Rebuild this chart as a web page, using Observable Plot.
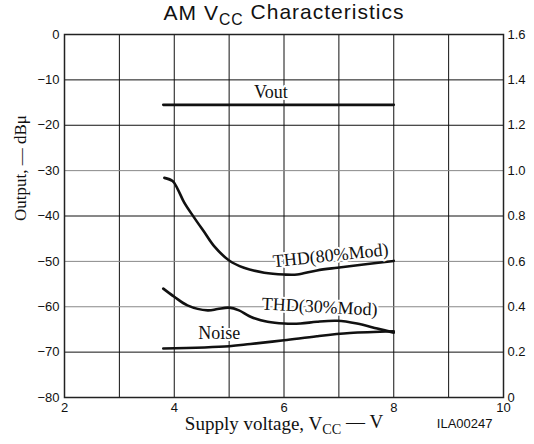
<!DOCTYPE html>
<html><head><meta charset="utf-8">
<script src="https://cdn.jsdelivr.net/npm/d3@7"></script>
<script src="https://cdn.jsdelivr.net/npm/@observablehq/plot@0.6"></script>
<style>body{margin:0;background:#fff}</style>
</head><body><div id="chart"></div>
<script>
// ---- data ----
const voutX = [3.8, 8.0];
const voutY = [-15.5, -15.5];
const thd80X = [3.82, 3.97, 4.06, 4.18, 4.36, 4.55, 4.73, 5.0, 5.27, 5.64, 6.0, 6.24, 6.6, 6.97, 7.45, 8.0];
const thd80Y = [-31.6, -32.3, -34.0, -37.0, -40.3, -43.6, -46.7, -49.8, -51.4, -52.5, -52.9, -52.9, -52.0, -51.4, -50.7, -49.9];
const thd30X = [3.8, 4.0, 4.24, 4.61, 4.79, 5.0, 5.18, 5.39, 5.7, 6.0, 6.3, 6.6, 6.97, 7.33, 7.7, 8.0];
const thd30Y = [-56.0, -57.8, -59.7, -60.8, -60.5, -60.2, -60.8, -62.2, -63.3, -63.7, -63.7, -63.3, -63.1, -63.7, -64.8, -65.7];
const noiseX = [3.8, 5.0, 5.39, 6.0, 6.6, 7.2, 8.0];
const noiseY = [-69.2, -68.7, -68.2, -67.4, -66.5, -65.8, -65.4];

const xTicks = [2, 4, 6, 8, 10];
const xGrid = [3, 4, 5, 6, 7, 8, 9];
const yTicks = [-80, -70, -60, -50, -40, -30, -20, -10, 0];
const yGridDark = [-70, -40, -20, -10];
const yGridLight = [-60, -50, -30];
const rightTickLabels = ["0", "0.2", "0.4", "0.6", "0.8", "1.0", "1.2", "1.4", "1.6"];

const curveLabels = [
  {x: 5.76, y: -12.8, text: "Vout", rotate: 0},
  {x: 6.85, y: -48.7, text: "THD(80%Mod)", rotate: -6},
  {x: 6.65, y: -60.0, text: "THD(30%Mod)", rotate: 3},
  {x: 4.82, y: -65.8, text: "Noise", rotate: 0}
];

const titleText = "AM V_CC Characteristics";
const xLabelText = "Supply voltage, V_CC — V";
const yLabelText = "Output, — dBμ";
const codeText = "ILA00247";

const toRows = (xs, ys) => xs.map((x, i) => ({x, y: ys[i]}));
const serif = "'Liberation Serif', 'Times New Roman', serif";

const chart = Plot.plot({
  width: 534, height: 444,
  marginLeft: 64, marginRight: 31, marginTop: 34, marginBottom: 47,
  style: {fontFamily: "'Liberation Sans', Arial, sans-serif", fontSize: "13px", color: "#111", background: "#fff"},
  x: {domain: [2, 10]},
  y: {domain: [-80, 0]},
  marks: [
    Plot.ruleX(xGrid, {stroke: "#111", strokeWidth: 1}),
    Plot.ruleY(yGridDark, {stroke: "#111", strokeWidth: 1}),
    Plot.ruleY(yGridLight, {stroke: "#888", strokeWidth: 1}),
    Plot.frame({stroke: "#222", strokeWidth: 1.5}),
    Plot.axisX({ticks: xTicks, tickSize: 0, tickPadding: 5, label: null}),
    Plot.axisY({ticks: yTicks, tickSize: 0, tickPadding: 5, label: null}),
    Plot.axisY({anchor: "right", ticks: yTicks, tickSize: 0, tickPadding: 4, label: null,
      tickFormat: d => rightTickLabels[Math.round((d + 80) / 10)]}),
    Plot.line(toRows(voutX, voutY), {x: "x", y: "y", stroke: "#111", strokeWidth: 2.6}),
    Plot.line(toRows(thd80X, thd80Y), {x: "x", y: "y", stroke: "#111", strokeWidth: 2.6, curve: "catmull-rom"}),
    Plot.line(toRows(thd30X, thd30Y), {x: "x", y: "y", stroke: "#111", strokeWidth: 2.6, curve: "catmull-rom"}),
    Plot.line(toRows(noiseX, noiseY), {x: "x", y: "y", stroke: "#111", strokeWidth: 2.6, curve: "catmull-rom"}),
    Plot.text(curveLabels, {x: "x", y: "y", text: "text", rotate: "rotate",
      fontFamily: serif, fontSize: 18, fill: "#111", stroke: "white", strokeWidth: 4}),
    Plot.text([titleText], {frameAnchor: "top", lineAnchor: "middle", dy: -21, fontSize: 21, fill: "#111"}),
    Plot.text([xLabelText], {frameAnchor: "bottom", lineAnchor: "middle", dy: 26, fontSize: 19, fontFamily: serif, fill: "#111"}),
    Plot.text([codeText], {frameAnchor: "bottom-right", lineAnchor: "middle", textAnchor: "end", dx: -11, dy: 26, fontSize: 13, fill: "#111"}),
    Plot.text([yLabelText], {frameAnchor: "left", rotate: -90, dx: -44, dy: 5, fontSize: 17, fontFamily: serif, fill: "#111"})
  ]
});

// subscript "CC"
d3.select(chart).selectAll("text").each(function() {
  const t = this.textContent;
  if (t.includes("_CC") && this.children.length === 0) {
    const [a, b] = t.split("_CC");
    const sel = d3.select(this);
    sel.text(null);
    sel.append("tspan").text(a);
    sel.append("tspan").attr("dy", "0.3em").attr("font-size", "0.75em").text("CC");
    sel.append("tspan").attr("dy", "-0.3em").text(b);
    if (t.startsWith("AM")) sel.attr("letter-spacing", "1px");
  }
});

document.getElementById("chart").appendChild(chart);
</script>
</body></html>
